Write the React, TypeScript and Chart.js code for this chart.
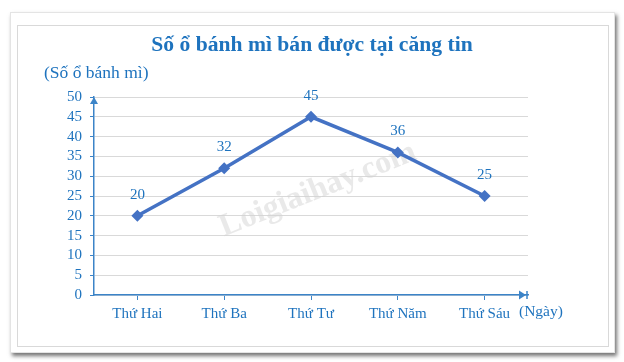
import React, { useEffect, useRef } from "react";
import { Chart, registerables } from "chart.js";

Chart.register(...registerables);

const categories = ["Thứ Hai", "Thứ Ba", "Thứ Tư", "Thứ Năm", "Thứ Sáu"];
const breadCounts = [20, 32, 45, 36, 25];
const titleText = "Số ổ bánh mì bán được tại căng tin";
const yAxisTitle = "(Số ổ bánh mì)";
const xAxisTitle = "(Ngày)";
const watermark = "Loigiaihay.com";

const BLUE_TEXT = "#1E73BE";
const AXIS_BLUE = "#3C84C8";
const LINE_BLUE = "#4472C4";
const SERIF = "'Liberation Serif', 'Times New Roman', serif";

const decorPlugin = {
  id: "decor",
  beforeDatasetsDraw(chart: any) {
    const ctx = chart.ctx;
    const area = chart.chartArea;
    // watermark
    ctx.save();
    ctx.translate(318, 190);
    ctx.rotate(-0.38);
    ctx.font = `bold 32px ${SERIF}`;
    ctx.fillStyle = "rgba(212,212,212,0.5)";
    ctx.textAlign = "center";
    ctx.textBaseline = "middle";
    ctx.fillText(watermark, 0, 0);
    ctx.restore();
    // arrows
    ctx.save();
    ctx.fillStyle = AXIS_BLUE;
    ctx.strokeStyle = AXIS_BLUE;
    ctx.lineWidth = 1.5;
    const y0 = area.bottom;
    ctx.beginPath();
    ctx.moveTo(519, y0 - 4.5);
    ctx.lineTo(526, y0);
    ctx.lineTo(519, y0 + 4.5);
    ctx.closePath();
    ctx.fill();
    ctx.beginPath();
    ctx.moveTo(527, y0 - 4);
    ctx.lineTo(527, y0 + 4);
    ctx.stroke();
    const x0 = area.left;
    ctx.beginPath();
    ctx.moveTo(x0 - 4, area.top + 7);
    ctx.lineTo(x0, area.top);
    ctx.lineTo(x0 + 4, area.top + 7);
    ctx.closePath();
    ctx.fill();
    ctx.restore();
  },
  afterDraw(chart: any) {
    const ctx = chart.ctx;
    ctx.save();
    ctx.fillStyle = BLUE_TEXT;
    ctx.textBaseline = "middle";
    ctx.font = `bold 21.6px ${SERIF}`;
    ctx.textAlign = "center";
    ctx.fillText(titleText, 312, 45);
    ctx.font = `17.5px ${SERIF}`;
    ctx.textAlign = "left";
    ctx.fillText(yAxisTitle, 44, 73);
    ctx.font = `15.5px ${SERIF}`;
    ctx.fillText(xAxisTitle, 519, 312);
    const meta = chart.getDatasetMeta(0);
    ctx.textAlign = "center";
    ctx.font = `15px ${SERIF}`;
    meta.data.forEach((pt: any, i: number) => {
      ctx.fillText(String(breadCounts[i]), pt.x, pt.y - 21);
    });
    ctx.restore();
  },
};

export default function App() {
  const ref = useRef<HTMLCanvasElement>(null);
  useEffect(() => {
    const chart = new Chart(ref.current as HTMLCanvasElement, {
      type: "line",
      data: {
        labels: categories,
        datasets: [
          {
            data: breadCounts,
            borderColor: LINE_BLUE,
            backgroundColor: LINE_BLUE,
            borderWidth: 3.5,
            pointStyle: "rectRot",
            pointRadius: 6,
            pointBorderWidth: 0,
            tension: 0,
          },
        ],
      },
      options: {
        animation: false,
        responsive: false,
        maintainAspectRatio: false,
        layout: { padding: { left: 0, top: 97, right: 96, bottom: 0 } },
        plugins: { legend: { display: false }, tooltip: { enabled: false }, title: { display: false } },
        scales: {
          x: {
            offset: true,
            afterFit: (s: any) => {
              s.height = 67;
            },
            grid: {
              display: true,
              drawOnChartArea: false,
              drawTicks: true,
              tickLength: 5,
              tickColor: AXIS_BLUE,
              offset: false,
            },
            border: { color: AXIS_BLUE, width: 1.5 },
            ticks: {
              color: BLUE_TEXT,
              font: { family: SERIF, size: 15 },
              padding: 5,
              maxRotation: 0,
              autoSkip: false,
            },
          },
          y: {
            min: 0,
            max: 50,
            afterFit: (s: any) => {
              s.width = 94;
            },
            grid: {
              color: "#d9d9d9",
              lineWidth: 1,
              drawTicks: true,
              tickLength: 4,
              tickColor: AXIS_BLUE,
            },
            border: { color: AXIS_BLUE, width: 1.5 },
            ticks: {
              stepSize: 5,
              color: BLUE_TEXT,
              font: { family: SERIF, size: 15 },
              padding: 8,
              autoSkip: false,
            },
          },
        },
      },
      plugins: [decorPlugin],
    });
    return () => chart.destroy();
  }, []);

  return (
    <div style={{ position: "fixed", left: 0, top: 0, width: 624, height: 362, background: "#ffffff" }}>
      <div
        style={{
          position: "absolute",
          left: 10,
          top: 12,
          width: 603,
          height: 339,
          background: "#fff",
          boxShadow: "2px 3px 4px rgba(0,0,0,0.55)",
          border: "1px solid #e4e4e4",
        }}
      />
      <div
        style={{
          position: "absolute",
          left: 17,
          top: 25,
          width: 590,
          height: 320,
          border: "1px solid #d9d9d9",
        }}
      />
      <canvas ref={ref} width={624} height={362} style={{ position: "absolute", left: 0, top: 0 }} />
    </div>
  );
}
